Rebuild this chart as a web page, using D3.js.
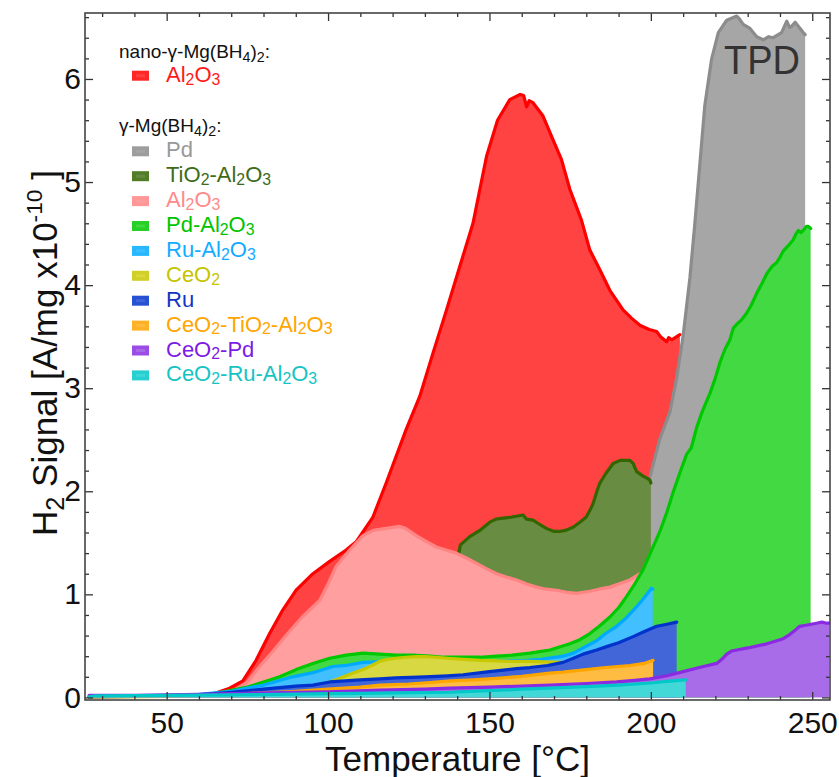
<!DOCTYPE html>
<html><head><meta charset="utf-8">
<script src="https://cdn.jsdelivr.net/npm/d3@7"></script>
<style>html,body{margin:0;padding:0;background:#fff;} svg{display:block;font-family:"Liberation Sans",Arial,sans-serif;}</style>
</head><body><svg id="chart" width="839" height="777"></svg>
<script>
// ---------- data (temperature °C, H2 signal A/mg x1e-10) ----------
const xMajorTicks = [50, 100, 150, 200, 250];
const yMajorTicks = [0, 1, 2, 3, 4, 5, 6];
const xLabel = "Temperature [°C]";
const yLabel = "H_2 Signal [A/mg x10^{-10} ]";
const headerNano = "nano-γ-Mg(BH_4)_2:";
const headerGamma = "γ-Mg(BH_4)_2:";

const nanoAl2O3 = [[26,0.01],[40,0.01],[50,0.015],[60,0.025],[65,0.04],[69.5,0.09],[73.6,0.16],[77.7,0.36],[81.9,0.62],[86,0.85],[90.1,1.04],[95.3,1.20],[100.5,1.32],[105.6,1.43],[108.7,1.51],[113.9,1.75],[118,2.08],[124.2,2.60],[128.4,2.92],[132.5,3.34],[136.7,3.76],[140.8,4.18],[144.9,4.60],[149.1,5.25],[152.5,5.60],[156.3,5.80],[159.5,5.85],[160.6,5.84],[161.5,5.73],[162.3,5.79],[163.5,5.77],[166.6,5.64],[169.7,5.41],[172.3,5.22],[174.9,4.93],[178.5,4.63],[181.1,4.34],[184.2,4.15],[187.3,3.95],[191.4,3.76],[194,3.68],[196.6,3.61],[199.5,3.57],[201.8,3.55],[203,3.50],[204.9,3.45],[205.5,3.49],[206.5,3.47],[208,3.50],[209,3.52]];
const pd = [[199.8,2.15],[202.8,2.51],[205.9,2.77],[208,3.10],[210,3.51],[212.1,4.07],[213.6,4.59],[215.2,5.18],[216.7,5.74],[218.8,6.19],[220.9,6.45],[223.5,6.57],[225,6.59],[226.6,6.61],[227.5,6.58],[228.6,6.53],[230.7,6.49],[232.8,6.41],[234.8,6.38],[236.5,6.41],[237.9,6.40],[240.5,6.45],[241.5,6.52],[242.1,6.56],[243,6.50],[243.6,6.51],[244.7,6.55],[246,6.50],[247.2,6.45],[247.8,6.43]];
const tio2Al2O3 = [[140.5,1.40],[141,1.48],[143.9,1.56],[147,1.62],[150.1,1.70],[152,1.73],[154.2,1.74],[157,1.75],[160.4,1.77],[161.5,1.73],[163.5,1.72],[165.5,1.68],[167.6,1.64],[170,1.61],[171.7,1.61],[173.5,1.62],[175.9,1.65],[178,1.70],[180,1.75],[181.2,1.82],[182.1,1.88],[183.5,2.02],[184.2,2.08],[186,2.17],[188.3,2.27],[190.5,2.30],[193.5,2.30],[194.5,2.27],[195.6,2.19],[197.5,2.15],[199.7,2.11],[200,2.08]];
const al2O3 = [[26,0.01],[50,0.01],[60,0.015],[65,0.025],[70,0.05],[72.6,0.10],[75,0.15],[78.8,0.30],[83,0.45],[87.5,0.62],[92,0.78],[97.4,0.94],[100,1.10],[102.5,1.27],[106.7,1.43],[110.8,1.57],[114,1.62],[118,1.64],[122,1.66],[124,1.64],[127.3,1.57],[130,1.52],[133.5,1.46],[136.5,1.43],[139.7,1.40],[143,1.35],[146,1.30],[149,1.25],[152.2,1.20],[155,1.17],[158.4,1.14],[161.5,1.10],[164.6,1.07],[167.5,1.05],[170.8,1.04],[174,1.02],[177,1.01],[179,1.02],[181.1,1.03],[184,1.05],[187.3,1.07],[190,1.10],[193.5,1.14],[196.6,1.20],[199.5,1.24]];
const pdAl2O3 = [[26,0.01],[40,0.01],[50,0.015],[60,0.025],[65,0.04],[70,0.07],[75,0.10],[80,0.15],[85,0.20],[90.1,0.27],[95.3,0.33],[100.5,0.38],[105.6,0.41],[110.8,0.43],[116,0.42],[121.1,0.41],[126,0.41],[131.5,0.40],[136,0.39],[141.8,0.39],[147,0.39],[152.2,0.40],[157,0.41],[162.5,0.43],[168.7,0.46],[174.9,0.52],[178,0.56],[181.1,0.62],[184,0.69],[187.3,0.78],[190,0.87],[192.5,0.98],[195,1.10],[197.6,1.24],[199.7,1.39],[202.8,1.61],[205,1.80],[206.9,1.99],[209,2.18],[211.1,2.36],[212.5,2.42],[214.2,2.62],[216,2.78],[218.3,2.95],[220,3.10],[221.4,3.25],[223,3.38],[224.5,3.47],[225.5,3.58],[226.6,3.62],[228,3.66],[229.7,3.73],[231,3.80],[232.8,3.92],[234.5,4.02],[235.9,4.11],[237.5,4.18],[239,4.22],[240,4.27],[241,4.33],[242.5,4.38],[244.1,4.44],[245,4.50],[245.7,4.53],[246.5,4.51],[247.2,4.53],[248.2,4.57],[248.8,4.57],[249.5,4.55]];
const ruAl2O3 = [[26,0.01],[40,0.015],[50,0.02],[60,0.03],[70,0.06],[80,0.12],[89,0.20],[95.3,0.24],[101.5,0.30],[105.6,0.31],[110.8,0.34],[120,0.35],[130,0.35],[140,0.35],[150,0.35],[161.5,0.36],[166,0.37],[172.8,0.40],[176,0.43],[179,0.48],[183.2,0.55],[186,0.62],[189.4,0.69],[192,0.76],[195.6,0.88],[198,0.97],[200.2,1.06],[200.6,1.05]];
const ceO2 = [[26,0.005],[50,0.01],[70,0.03],[85,0.07],[95,0.11],[100.5,0.15],[103,0.18],[105.6,0.21],[108,0.24],[110.8,0.27],[113.5,0.31],[116,0.35],[118.5,0.37],[121.1,0.38],[124,0.39],[127.3,0.395],[130,0.395],[133.5,0.39],[137,0.38],[141.8,0.37],[147,0.36],[152.2,0.355],[157,0.35],[162.5,0.35],[167,0.345],[172.8,0.34],[178,0.335],[185,0.33],[192,0.33],[200,0.33]];
const ru = [[26,0.005],[40,0.01],[50,0.015],[60,0.025],[70,0.05],[80,0.08],[90,0.11],[95.3,0.12],[100.5,0.15],[110,0.17],[116,0.18],[121,0.19],[130,0.20],[137,0.21],[141.8,0.22],[150,0.25],[158.4,0.28],[162.5,0.29],[168,0.31],[172.8,0.34],[176,0.38],[179,0.42],[183.2,0.46],[187,0.50],[190,0.53],[194.5,0.59],[198,0.64],[201.8,0.69],[205,0.71],[208,0.73]];
const ceO2TiO2Al2O3 = [[26,0.005],[50,0.01],[70,0.03],[90,0.06],[100,0.08],[110,0.10],[116,0.12],[125,0.13],[131.5,0.145],[138,0.16],[145,0.17],[152.2,0.185],[160,0.205],[168.7,0.235],[172.8,0.245],[180,0.27],[186,0.29],[193.5,0.31],[198,0.33],[200.7,0.36]];
const ceO2Pd = [[26,0.02],[30,0.02],[40,0.02],[50,0.025],[60,0.03],[74.6,0.04],[90,0.05],[100,0.055],[116,0.07],[130,0.08],[137.7,0.09],[150,0.10],[160,0.11],[168.7,0.12],[180,0.135],[189.4,0.15],[195,0.165],[199.7,0.18],[205,0.21],[210,0.25],[215,0.29],[220.4,0.33],[222,0.37],[223.5,0.42],[225,0.45],[226.6,0.46],[230,0.48],[233,0.50],[235.9,0.52],[238,0.54],[241,0.57],[243,0.61],[245,0.66],[246.1,0.69],[248,0.70],[251.3,0.72],[253,0.73],[254.4,0.72],[255.2,0.72]];
const ceO2RuAl2O3 = [[26,0.005],[28,0.015],[40,0.018],[50,0.02],[60,0.022],[70,0.025],[80,0.028],[90,0.032],[100,0.036],[110,0.04],[120,0.045],[137.7,0.05],[150,0.065],[160,0.08],[168.7,0.09],[180,0.105],[190,0.12],[199.7,0.14],[205,0.155],[210.5,0.17],[210.8,0.17]];

// ---------- series styling (drawing order = back to front) ----------
const series = [
  {label:"Al_2O_3", data:nanoAl2O3, fill:"#ff4242", line:"#ff0000", text:"#ff1a1a"},
  {label:"Pd", data:pd, fill:"#a6a6a6", line:"#8c8c8c", text:"#999999"},
  {label:"TiO_2-Al_2O_3", data:tio2Al2O3, fill:"#688c42", line:"#336600", text:"#3d6b1a"},
  {label:"Al_2O_3", data:al2O3, fill:"#ff9f9f", line:"#ff8585", text:"#ff8a8a"},
  {label:"Pd-Al_2O_3", data:pdAl2O3, fill:"#42d942", line:"#00c800", text:"#00c400"},
  {label:"Ru-Al_2O_3", data:ruAl2O3, fill:"#42bfff", line:"#00aaff", text:"#14aaff"},
  {label:"CeO_2", data:ceO2, fill:"#d8d842", line:"#c8c800", text:"#c4c400"},
  {label:"Ru", data:ru, fill:"#4266d8", line:"#0033cc", text:"#1433c4"},
  {label:"CeO_2-TiO_2-Al_2O_3", data:ceO2TiO2Al2O3, fill:"#ffbc42", line:"#ffa500", text:"#ffa500"},
  {label:"CeO_2-Pd", data:ceO2Pd, fill:"#a86ce8", line:"#8a2be2", text:"#7d1ae6"},
  {label:"CeO_2-Ru-Al_2O_3", data:ceO2RuAl2O3, fill:"#42d8d8", line:"#00c8c8", text:"#14c4c4"}
];

// ---------- layout ----------
const L = 85, R = 830, T = 13, B = 700;
const svg = d3.select("#chart");
const x = d3.scaleLinear().domain([24.7, 255.5]).range([L, R]);
const y = d3.scaleLinear().domain([-0.025, 6.64]).range([B, T]);

// rich text helper: _x subscript, ^{..} superscript
function rich(textSel, str, size, subScale, subShift) {
  const re = /(_[0-9])|(\^\{[^}]*\})/g;
  let last = 0, m, shift = 0;
  const add = (s, type) => {
    if (!s) return;
    const ts = textSel.append("tspan").text(s);
    let target = 0;
    if (type === "sub") { ts.attr("font-size", size * (subScale || 0.72)); target = size * (subShift || 0.2); }
    else if (type === "sup") { ts.attr("font-size", size * 0.65); target = -size * 0.42; }
    ts.attr("dy", target - shift);
    shift = target;
  };
  while ((m = re.exec(str)) !== null) {
    add(str.slice(last, m.index), "n");
    if (m[1]) add(m[1].slice(1), "sub"); else add(m[2].slice(2, -1), "sup");
    last = re.lastIndex;
  }
  add(str.slice(last), "n");
}

svg.append("defs").append("clipPath").attr("id", "clip")
  .append("rect").attr("x", L).attr("y", T).attr("width", R - L).attr("height", B - T);

const plot = svg.append("g").attr("clip-path", "url(#clip)");
const area = d3.area().x(d => x(d[0])).y0(y(0)).y1(d => y(d[1]));
const line = d3.line().x(d => x(d[0])).y(d => y(d[1]));

series.forEach(s => {
  plot.append("path").datum(s.data).attr("d", area).attr("fill", s.fill);
  plot.append("path").datum(s.data).attr("d", line).attr("fill", "none")
    .attr("stroke", s.line).attr("stroke-width", 3.2).attr("stroke-linejoin", "round").attr("stroke-linecap", "round");
});

// ---------- axes ----------
const xMinor = d3.range(30, 256, 10).filter(v => !xMajorTicks.includes(v));
const yMinor = d3.range(0, 6.61, 0.2).map(v => +v.toFixed(1)).filter(v => !yMajorTicks.includes(v));
const tickCol = "#333";
function styleAxis(g) { g.select(".domain").remove(); g.selectAll("line").attr("stroke", tickCol).attr("stroke-width", 1.3); }

svg.append("g").attr("transform", `translate(0,${B})`)
  .call(d3.axisBottom(x).tickValues(xMinor).tickSize(-4).tickFormat("")).call(styleAxis);
svg.append("g").attr("transform", `translate(0,${B})`)
  .call(d3.axisBottom(x).tickValues(xMajorTicks).tickSize(-8).tickPadding(12).tickFormat(d3.format("d")))
  .call(styleAxis)
  .call(g => g.selectAll("text").attr("font-size", 30).attr("fill", "#111").attr("font-family", "Liberation Sans, Arial, sans-serif"));
svg.append("g").attr("transform", `translate(0,${T})`)
  .call(d3.axisTop(x).tickValues(xMinor).tickSize(-4).tickFormat("")).call(styleAxis);
svg.append("g").attr("transform", `translate(0,${T})`)
  .call(d3.axisTop(x).tickValues(xMajorTicks).tickSize(-8).tickFormat("")).call(styleAxis);

svg.append("g").attr("transform", `translate(${L},0)`)
  .call(d3.axisLeft(y).tickValues(yMinor).tickSize(-4).tickFormat("")).call(styleAxis);
svg.append("g").attr("transform", `translate(${L},0)`)
  .call(d3.axisLeft(y).tickValues(yMajorTicks).tickSize(-8).tickPadding(4).tickFormat(d3.format("d")))
  .call(styleAxis)
  .call(g => g.selectAll("text").attr("font-size", 30).attr("fill", "#111").attr("font-family", "Liberation Sans, Arial, sans-serif"));
svg.append("g").attr("transform", `translate(${R},0)`)
  .call(d3.axisRight(y).tickValues(yMinor).tickSize(-4).tickFormat("")).call(styleAxis);
svg.append("g").attr("transform", `translate(${R},0)`)
  .call(d3.axisRight(y).tickValues(yMajorTicks).tickSize(-8).tickFormat("")).call(styleAxis);

svg.append("rect").attr("x", L).attr("y", T).attr("width", R - L).attr("height", B - T)
  .attr("fill", "none").attr("stroke", "#444").attr("stroke-width", 1.6);

// axis titles
const xt = svg.append("text").attr("x", (L + R) / 2).attr("y", 771).attr("text-anchor", "middle")
  .attr("font-size", 35).attr("fill", "#111");
rich(xt, xLabel, 35);
const yt = svg.append("text").attr("transform", `translate(57,353) rotate(-90)`).attr("text-anchor", "middle")
  .attr("font-size", 35).attr("fill", "#111");
rich(yt, yLabel, 35);

// TPD label
svg.append("text").attr("x", 724).attr("y", 73.5).attr("font-size", 41).attr("fill", "#333")
  .attr("textLength", 76).attr("lengthAdjust", "spacingAndGlyphs").text("TPD");

// ---------- legend ----------
const leg = svg.append("g");
const h1 = leg.append("text").attr("x", 119).attr("y", 58.3).attr("font-size", 19).attr("fill", "#111");
rich(h1, headerNano, 19, 0.75);
const h2 = leg.append("text").attr("x", 119).attr("y", 131.7).attr("font-size", 19).attr("fill", "#111");
rich(h2, headerGamma, 19, 0.75);

function legendEntry(s, base) {
  leg.append("rect").attr("x", 132).attr("y", base - 11).attr("width", 17).attr("height", 10)
    .attr("fill", s.line).attr("opacity", 0.85);
  leg.append("rect").attr("x", 136).attr("y", base - 7.5).attr("width", 9).attr("height", 3)
    .attr("fill", s.fill).attr("opacity", 0.9);
  const t = leg.append("text").attr("x", 166).attr("y", base).attr("font-size", 22).attr("fill", s.text);
  rich(t, s.label, 22, 0.72, 0.13);
}
legendEntry(series[0], 81.7);
series.slice(1).forEach((s, i) => legendEntry(s, 157.3 + 24.9 * i));
</script>
</body></html>
